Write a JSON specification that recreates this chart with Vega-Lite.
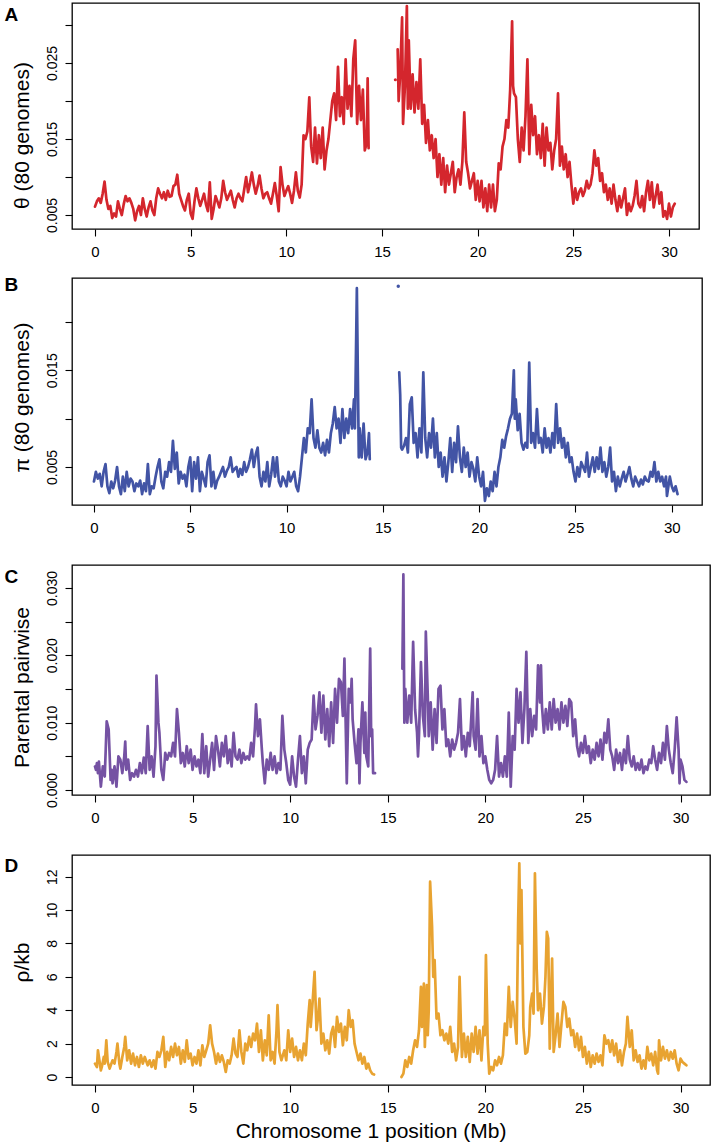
{
 "$schema": "https://vega.github.io/schema/vega-lite/v6.json",
 "background": "white",
 "padding": {"left": 3, "top": 2, "right": 0, "bottom": 0},
 "config": {
  "view": {"stroke": "black", "strokeWidth": 1.3},
  "axis": {"domain": false, "grid": false, "tickColor": "black", "tickSize": 7, "tickWidth": 1.1, "labelColor": "black", "titleColor": "black", "labelFont": "Liberation Sans", "titleFont": "Liberation Sans", "labelFlush": false, "labelOverlap": false, "titleFontWeight": "normal"}
 },
 "datasets": {
  "theta": [
   {"x":0.0,"v":0.0061},{"x":0.1,"v":0.0068},{"x":0.2,"v":0.0072},{"x":0.3,"v":0.0066},{"x":0.4,"v":0.0078},{"x":0.5,"v":0.0094},{"x":0.6,"v":0.0070},{"x":0.7,"v":0.0058},{"x":0.8,"v":0.0062},{"x":0.9,"v":0.0046},
   {"x":1.0,"v":0.0052},{"x":1.1,"v":0.0048},{"x":1.2,"v":0.0068},{"x":1.3,"v":0.0058},{"x":1.4,"v":0.0050},{"x":1.5,"v":0.0064},{"x":1.6,"v":0.0075},{"x":1.7,"v":0.0068},{"x":1.8,"v":0.0072},{"x":1.9,"v":0.0066},
   {"x":2.0,"v":0.0058},{"x":2.1,"v":0.0043},{"x":2.2,"v":0.0055},{"x":2.3,"v":0.0062},{"x":2.4,"v":0.0050},{"x":2.5,"v":0.0072},{"x":2.6,"v":0.0058},{"x":2.7,"v":0.0048},{"x":2.8,"v":0.0060},{"x":2.9,"v":0.0068},
   {"x":3.0,"v":0.0056},{"x":3.1,"v":0.0050},{"x":3.2,"v":0.0072},{"x":3.3,"v":0.0085},{"x":3.4,"v":0.0078},{"x":3.5,"v":0.0072},{"x":3.6,"v":0.0080},{"x":3.7,"v":0.0070},{"x":3.8,"v":0.0082},{"x":3.9,"v":0.0074},
   {"x":4.0,"v":0.0075},{"x":4.1,"v":0.0088},{"x":4.2,"v":0.0090},{"x":4.3,"v":0.0103},{"x":4.4,"v":0.0078},{"x":4.5,"v":0.0070},{"x":4.6,"v":0.0062},{"x":4.7,"v":0.0056},{"x":4.8,"v":0.0070},{"x":4.9,"v":0.0078},
   {"x":5.0,"v":0.0052},{"x":5.1,"v":0.0045},{"x":5.2,"v":0.0068},{"x":5.3,"v":0.0085},{"x":5.4,"v":0.0072},{"x":5.5,"v":0.0062},{"x":5.6,"v":0.0070},{"x":5.7,"v":0.0078},{"x":5.8,"v":0.0064},{"x":5.9,"v":0.0055},
   {"x":6.0,"v":0.0093},{"x":6.1,"v":0.0045},{"x":6.2,"v":0.0058},{"x":6.3,"v":0.0075},{"x":6.4,"v":0.0068},{"x":6.5,"v":0.0060},{"x":6.6,"v":0.0072},{"x":6.7,"v":0.0095},{"x":6.8,"v":0.0080},{"x":6.9,"v":0.0070},
   {"x":7.0,"v":0.0076},{"x":7.1,"v":0.0082},{"x":7.2,"v":0.0070},{"x":7.3,"v":0.0060},{"x":7.4,"v":0.0072},{"x":7.5,"v":0.0078},{"x":7.6,"v":0.0072},{"x":7.7,"v":0.0068},{"x":7.8,"v":0.0084},{"x":7.9,"v":0.0100},
   {"x":8.0,"v":0.0080},{"x":8.1,"v":0.0092},{"x":8.2,"v":0.0106},{"x":8.3,"v":0.0090},{"x":8.4,"v":0.0078},{"x":8.5,"v":0.0088},{"x":8.6,"v":0.0102},{"x":8.7,"v":0.0085},{"x":8.8,"v":0.0072},{"x":8.9,"v":0.0078},
   {"x":9.0,"v":0.0080},{"x":9.1,"v":0.0072},{"x":9.2,"v":0.0065},{"x":9.3,"v":0.0078},{"x":9.4,"v":0.0092},{"x":9.5,"v":0.0075},{"x":9.6,"v":0.0055},{"x":9.7,"v":0.0113},{"x":9.8,"v":0.0090},{"x":9.9,"v":0.0075},
   {"x":10.0,"v":0.0082},{"x":10.1,"v":0.0088},{"x":10.2,"v":0.0078},{"x":10.3,"v":0.0066},{"x":10.4,"v":0.0082},{"x":10.5,"v":0.0106},{"x":10.6,"v":0.0082},{"x":10.7,"v":0.0073},{"x":10.8,"v":0.0090},{"x":10.9,"v":0.0155},
   {"x":11.0,"v":0.0150},{"x":11.1,"v":0.0160},{"x":11.2,"v":0.0205},{"x":11.25,"v":0.0170},{"x":11.3,"v":0.0140},{"x":11.4,"v":0.0120},{"x":11.5,"v":0.0165},{"x":11.6,"v":0.0118},{"x":11.7,"v":0.0155},{"x":11.8,"v":0.0125},{"x":11.9,"v":0.0165},
   {"x":12.0,"v":0.0110},{"x":12.1,"v":0.0135},{"x":12.2,"v":0.0150},{"x":12.3,"v":0.0175},{"x":12.4,"v":0.0200},{"x":12.5,"v":0.0210},{"x":12.6,"v":0.0175},{"x":12.7,"v":0.0245},{"x":12.8,"v":0.0180},{"x":12.9,"v":0.0205},
   {"x":13.0,"v":0.0170},{"x":13.1,"v":0.0255},{"x":13.2,"v":0.0190},{"x":13.3,"v":0.0220},{"x":13.4,"v":0.0180},{"x":13.5,"v":0.0255},{"x":13.6,"v":0.0280},{"x":13.7,"v":0.0170},{"x":13.8,"v":0.0220},{"x":13.9,"v":0.0175},
   {"x":14.0,"v":0.0215},{"x":14.1,"v":0.0135},{"x":14.2,"v":0.0145},{"x":14.25,"v":0.0230},{"x":14.3,"v":0.0138},
   {"x":15.82,"v":0.0268},{"x":15.87,"v":0.0200},{"x":15.95,"v":0.0235},{"x":16.05,"v":0.0310},{"x":16.1,"v":0.0170},{"x":16.2,"v":0.0220},{"x":16.3,"v":0.0325},{"x":16.35,"v":0.0190},{"x":16.4,"v":0.0280},{"x":16.5,"v":0.0190},
   {"x":16.6,"v":0.0235},{"x":16.7,"v":0.0185},{"x":16.8,"v":0.0225},{"x":16.9,"v":0.0190},{"x":17.0,"v":0.0255},{"x":17.1,"v":0.0170},{"x":17.2,"v":0.0195},{"x":17.3,"v":0.0145},{"x":17.4,"v":0.0175},{"x":17.5,"v":0.0135},
   {"x":17.6,"v":0.0155},{"x":17.7,"v":0.0125},{"x":17.8,"v":0.0150},{"x":17.9,"v":0.0100},{"x":18.0,"v":0.0130},{"x":18.1,"v":0.0090},{"x":18.2,"v":0.0125},{"x":18.3,"v":0.0080},{"x":18.4,"v":0.0115},{"x":18.5,"v":0.0090},
   {"x":18.6,"v":0.0105},{"x":18.7,"v":0.0120},{"x":18.8,"v":0.0080},{"x":18.9,"v":0.0100},{"x":19.0,"v":0.0110},{"x":19.1,"v":0.0090},{"x":19.2,"v":0.0120},{"x":19.3,"v":0.0185},{"x":19.4,"v":0.0120},{"x":19.5,"v":0.0105},
   {"x":19.6,"v":0.0085},{"x":19.7,"v":0.0095},{"x":19.8,"v":0.0105},{"x":19.9,"v":0.0070},{"x":20.0,"v":0.0095},{"x":20.1,"v":0.0068},{"x":20.2,"v":0.0095},{"x":20.3,"v":0.0060},{"x":20.4,"v":0.0085},{"x":20.5,"v":0.0055},
   {"x":20.6,"v":0.0090},{"x":20.7,"v":0.0060},{"x":20.8,"v":0.0090},{"x":20.9,"v":0.0055},{"x":21.0,"v":0.0070},{"x":21.1,"v":0.0118},{"x":21.2,"v":0.0110},{"x":21.3,"v":0.0140},{"x":21.4,"v":0.0150},{"x":21.5,"v":0.0175},
   {"x":21.6,"v":0.0165},{"x":21.7,"v":0.0215},{"x":21.8,"v":0.0305},{"x":21.85,"v":0.0220},{"x":21.9,"v":0.0210},{"x":22.0,"v":0.0205},{"x":22.1,"v":0.0150},{"x":22.2,"v":0.0120},{"x":22.3,"v":0.0165},{"x":22.4,"v":0.0135},
   {"x":22.5,"v":0.0180},{"x":22.6,"v":0.0255},{"x":22.7,"v":0.0130},{"x":22.8,"v":0.0195},{"x":22.9,"v":0.0155},{"x":23.0,"v":0.0180},{"x":23.1,"v":0.0130},{"x":23.2,"v":0.0155},{"x":23.3,"v":0.0125},{"x":23.4,"v":0.0170},
   {"x":23.5,"v":0.0115},{"x":23.6,"v":0.0165},{"x":23.7,"v":0.0135},{"x":23.8,"v":0.0145},{"x":23.9,"v":0.0110},{"x":24.0,"v":0.0135},{"x":24.1,"v":0.0150},{"x":24.2,"v":0.0210},{"x":24.3,"v":0.0115},{"x":24.4,"v":0.0140},
   {"x":24.5,"v":0.0110},{"x":24.6,"v":0.0130},{"x":24.7,"v":0.0100},{"x":24.8,"v":0.0120},{"x":24.9,"v":0.0090},{"x":25.0,"v":0.0065},{"x":25.1,"v":0.0085},{"x":25.2,"v":0.0070},{"x":25.3,"v":0.0080},{"x":25.4,"v":0.0085},
   {"x":25.5,"v":0.0075},{"x":25.6,"v":0.0082},{"x":25.7,"v":0.0095},{"x":25.8,"v":0.0085},{"x":25.9,"v":0.0090},{"x":26.0,"v":0.0105},{"x":26.1,"v":0.0135},{"x":26.2,"v":0.0115},{"x":26.3,"v":0.0125},{"x":26.4,"v":0.0095},
   {"x":26.5,"v":0.0105},{"x":26.6,"v":0.0080},{"x":26.7,"v":0.0090},{"x":26.8,"v":0.0070},{"x":26.9,"v":0.0085},{"x":27.0,"v":0.0065},{"x":27.1,"v":0.0090},{"x":27.2,"v":0.0070},{"x":27.3,"v":0.0055},{"x":27.4,"v":0.0075},
   {"x":27.5,"v":0.0060},{"x":27.6,"v":0.0072},{"x":27.7,"v":0.0085},{"x":27.8,"v":0.0050},{"x":27.9,"v":0.0065},{"x":28.0,"v":0.0055},{"x":28.1,"v":0.0062},{"x":28.2,"v":0.0075},{"x":28.3,"v":0.0095},{"x":28.4,"v":0.0065},
   {"x":28.5,"v":0.0060},{"x":28.6,"v":0.0075},{"x":28.7,"v":0.0055},{"x":28.8,"v":0.0080},{"x":28.9,"v":0.0095},{"x":29.0,"v":0.0070},{"x":29.1,"v":0.0093},{"x":29.2,"v":0.0060},{"x":29.3,"v":0.0075},{"x":29.4,"v":0.0090},
   {"x":29.5,"v":0.0065},{"x":29.6,"v":0.0080},{"x":29.7,"v":0.0048},{"x":29.8,"v":0.0055},{"x":29.9,"v":0.0045},{"x":30.0,"v":0.0065},{"x":30.1,"v":0.0048},{"x":30.2,"v":0.0060},{"x":30.3,"v":0.0065}
  ],
  "thetaDot": [{"x":15.7,"v":0.0228}],
  "pi": [
   {"x":0.0,"v":0.0035},{"x":0.1,"v":0.0045},{"x":0.2,"v":0.0038},{"x":0.3,"v":0.0043},{"x":0.4,"v":0.0030},{"x":0.5,"v":0.0045},{"x":0.6,"v":0.0053},{"x":0.7,"v":0.0030},{"x":0.8,"v":0.0023},{"x":0.9,"v":0.0035},
   {"x":1.0,"v":0.0028},{"x":1.1,"v":0.0036},{"x":1.2,"v":0.0050},{"x":1.3,"v":0.0030},{"x":1.4,"v":0.0022},{"x":1.5,"v":0.0040},{"x":1.6,"v":0.0025},{"x":1.7,"v":0.0045},{"x":1.8,"v":0.0030},{"x":1.9,"v":0.0038},
   {"x":2.0,"v":0.0035},{"x":2.1,"v":0.0025},{"x":2.2,"v":0.0033},{"x":2.3,"v":0.0030},{"x":2.4,"v":0.0036},{"x":2.5,"v":0.0022},{"x":2.6,"v":0.0033},{"x":2.7,"v":0.0025},{"x":2.8,"v":0.0053},{"x":2.9,"v":0.0022},
   {"x":3.0,"v":0.0030},{"x":3.1,"v":0.0028},{"x":3.2,"v":0.0040},{"x":3.3,"v":0.0050},{"x":3.4,"v":0.0058},{"x":3.5,"v":0.0035},{"x":3.6,"v":0.0028},{"x":3.7,"v":0.0045},{"x":3.8,"v":0.0040},{"x":3.9,"v":0.0055},
   {"x":4.0,"v":0.0045},{"x":4.1,"v":0.0077},{"x":4.2,"v":0.0048},{"x":4.3,"v":0.0065},{"x":4.4,"v":0.0033},{"x":4.5,"v":0.0045},{"x":4.6,"v":0.0038},{"x":4.7,"v":0.0042},{"x":4.8,"v":0.0030},{"x":4.9,"v":0.0050},
   {"x":5.0,"v":0.0060},{"x":5.1,"v":0.0025},{"x":5.2,"v":0.0055},{"x":5.3,"v":0.0038},{"x":5.4,"v":0.0060},{"x":5.5,"v":0.0025},{"x":5.6,"v":0.0045},{"x":5.7,"v":0.0038},{"x":5.8,"v":0.0030},{"x":5.9,"v":0.0055},
   {"x":6.0,"v":0.0062},{"x":6.1,"v":0.0030},{"x":6.2,"v":0.0045},{"x":6.3,"v":0.0028},{"x":6.4,"v":0.0036},{"x":6.5,"v":0.0040},{"x":6.6,"v":0.0045},{"x":6.7,"v":0.0050},{"x":6.8,"v":0.0040},{"x":6.9,"v":0.0046},
   {"x":7.0,"v":0.0050},{"x":7.1,"v":0.0060},{"x":7.2,"v":0.0045},{"x":7.3,"v":0.0048},{"x":7.4,"v":0.0050},{"x":7.5,"v":0.0040},{"x":7.6,"v":0.0048},{"x":7.7,"v":0.0042},{"x":7.8,"v":0.0055},{"x":7.9,"v":0.0045},
   {"x":8.0,"v":0.0050},{"x":8.1,"v":0.0058},{"x":8.2,"v":0.0068},{"x":8.3,"v":0.0050},{"x":8.4,"v":0.0063},{"x":8.5,"v":0.0070},{"x":8.6,"v":0.0040},{"x":8.7,"v":0.0030},{"x":8.8,"v":0.0045},{"x":8.9,"v":0.0035},
   {"x":9.0,"v":0.0055},{"x":9.1,"v":0.0030},{"x":9.2,"v":0.0042},{"x":9.3,"v":0.0060},{"x":9.4,"v":0.0040},{"x":9.5,"v":0.0060},{"x":9.6,"v":0.0035},{"x":9.7,"v":0.0030},{"x":9.8,"v":0.0040},{"x":9.9,"v":0.0036},
   {"x":10.0,"v":0.0030},{"x":10.1,"v":0.0045},{"x":10.2,"v":0.0035},{"x":10.3,"v":0.0040},{"x":10.4,"v":0.0045},{"x":10.5,"v":0.0030},{"x":10.6,"v":0.0025},{"x":10.7,"v":0.0040},{"x":10.8,"v":0.0060},{"x":10.9,"v":0.0080},
   {"x":11.0,"v":0.0065},{"x":11.1,"v":0.0090},{"x":11.2,"v":0.0085},{"x":11.3,"v":0.0120},{"x":11.4,"v":0.0080},{"x":11.5,"v":0.0070},{"x":11.6,"v":0.0088},{"x":11.7,"v":0.0070},{"x":11.8,"v":0.0065},{"x":11.9,"v":0.0075},
   {"x":12.0,"v":0.0062},{"x":12.1,"v":0.0078},{"x":12.2,"v":0.0065},{"x":12.3,"v":0.0085},{"x":12.4,"v":0.0095},{"x":12.5,"v":0.0112},{"x":12.6,"v":0.0090},{"x":12.7,"v":0.0100},{"x":12.8,"v":0.0075},{"x":12.9,"v":0.0110},
   {"x":13.0,"v":0.0080},{"x":13.1,"v":0.0100},{"x":13.2,"v":0.0085},{"x":13.3,"v":0.0110},{"x":13.4,"v":0.0090},{"x":13.5,"v":0.0120},{"x":13.55,"v":0.0090},{"x":13.65,"v":0.0235},{"x":13.75,"v":0.0060},{"x":13.8,"v":0.0090},
   {"x":13.9,"v":0.0060},{"x":14.0,"v":0.0095},{"x":14.1,"v":0.0058},{"x":14.2,"v":0.0065},{"x":14.28,"v":0.0085},{"x":14.32,"v":0.0058},
   {"x":15.85,"v":0.0148},{"x":15.9,"v":0.0125},{"x":15.95,"v":0.0070},{"x":16.0,"v":0.0068},{"x":16.1,"v":0.0072},{"x":16.2,"v":0.0080},{"x":16.3,"v":0.0065},{"x":16.4,"v":0.0115},{"x":16.5,"v":0.0122},{"x":16.6,"v":0.0075},
   {"x":16.7,"v":0.0085},{"x":16.8,"v":0.0060},{"x":16.9,"v":0.0090},{"x":17.0,"v":0.0065},{"x":17.1,"v":0.0148},{"x":17.2,"v":0.0080},{"x":17.3,"v":0.0060},{"x":17.4,"v":0.0085},{"x":17.5,"v":0.0070},{"x":17.6,"v":0.0100},
   {"x":17.7,"v":0.0060},{"x":17.8,"v":0.0085},{"x":17.9,"v":0.0050},{"x":18.0,"v":0.0065},{"x":18.1,"v":0.0040},{"x":18.2,"v":0.0060},{"x":18.3,"v":0.0035},{"x":18.4,"v":0.0055},{"x":18.5,"v":0.0080},{"x":18.6,"v":0.0045},
   {"x":18.7,"v":0.0075},{"x":18.8,"v":0.0055},{"x":18.9,"v":0.0092},{"x":19.0,"v":0.0060},{"x":19.1,"v":0.0045},{"x":19.2,"v":0.0070},{"x":19.3,"v":0.0050},{"x":19.4,"v":0.0065},{"x":19.5,"v":0.0040},{"x":19.6,"v":0.0055},
   {"x":19.7,"v":0.0048},{"x":19.8,"v":0.0035},{"x":19.9,"v":0.0060},{"x":20.0,"v":0.0040},{"x":20.1,"v":0.0030},{"x":20.2,"v":0.0045},{"x":20.3,"v":0.0015},{"x":20.4,"v":0.0028},{"x":20.5,"v":0.0020},{"x":20.6,"v":0.0035},
   {"x":20.7,"v":0.0025},{"x":20.8,"v":0.0045},{"x":20.9,"v":0.0030},{"x":21.0,"v":0.0050},{"x":21.1,"v":0.0060},{"x":21.2,"v":0.0078},{"x":21.3,"v":0.0070},{"x":21.4,"v":0.0082},{"x":21.5,"v":0.0090},{"x":21.6,"v":0.0100},
   {"x":21.7,"v":0.0105},{"x":21.8,"v":0.0150},{"x":21.85,"v":0.0100},{"x":21.9,"v":0.0120},{"x":22.0,"v":0.0088},{"x":22.1,"v":0.0105},{"x":22.2,"v":0.0075},{"x":22.3,"v":0.0068},{"x":22.4,"v":0.0075},{"x":22.5,"v":0.0070},
   {"x":22.6,"v":0.0158},{"x":22.7,"v":0.0075},{"x":22.8,"v":0.0085},{"x":22.9,"v":0.0070},{"x":23.0,"v":0.0110},{"x":23.1,"v":0.0075},{"x":23.2,"v":0.0080},{"x":23.3,"v":0.0065},{"x":23.4,"v":0.0090},{"x":23.5,"v":0.0070},
   {"x":23.6,"v":0.0080},{"x":23.7,"v":0.0065},{"x":23.8,"v":0.0085},{"x":23.9,"v":0.0070},{"x":24.0,"v":0.0115},{"x":24.1,"v":0.0075},{"x":24.2,"v":0.0090},{"x":24.3,"v":0.0070},{"x":24.4,"v":0.0080},{"x":24.5,"v":0.0060},
   {"x":24.6,"v":0.0075},{"x":24.7,"v":0.0055},{"x":24.8,"v":0.0060},{"x":24.9,"v":0.0045},{"x":25.0,"v":0.0035},{"x":25.1,"v":0.0050},{"x":25.2,"v":0.0040},{"x":25.3,"v":0.0055},{"x":25.4,"v":0.0050},{"x":25.5,"v":0.0045},
   {"x":25.6,"v":0.0065},{"x":25.7,"v":0.0040},{"x":25.8,"v":0.0050},{"x":25.9,"v":0.0060},{"x":26.0,"v":0.0045},{"x":26.1,"v":0.0060},{"x":26.2,"v":0.0048},{"x":26.3,"v":0.0070},{"x":26.4,"v":0.0045},{"x":26.5,"v":0.0055},
   {"x":26.6,"v":0.0040},{"x":26.7,"v":0.0050},{"x":26.8,"v":0.0070},{"x":26.9,"v":0.0035},{"x":27.0,"v":0.0045},{"x":27.1,"v":0.0025},{"x":27.2,"v":0.0040},{"x":27.3,"v":0.0030},{"x":27.4,"v":0.0038},{"x":27.5,"v":0.0045},
   {"x":27.6,"v":0.0035},{"x":27.7,"v":0.0042},{"x":27.8,"v":0.0050},{"x":27.9,"v":0.0038},{"x":28.0,"v":0.0030},{"x":28.1,"v":0.0040},{"x":28.2,"v":0.0035},{"x":28.3,"v":0.0030},{"x":28.4,"v":0.0037},{"x":28.5,"v":0.0032},
   {"x":28.6,"v":0.0040},{"x":28.7,"v":0.0036},{"x":28.8,"v":0.0035},{"x":28.9,"v":0.0045},{"x":29.0,"v":0.0040},{"x":29.1,"v":0.0055},{"x":29.2,"v":0.0035},{"x":29.3,"v":0.0045},{"x":29.4,"v":0.0035},{"x":29.5,"v":0.0040},
   {"x":29.6,"v":0.0030},{"x":29.7,"v":0.0040},{"x":29.75,"v":0.0020},{"x":29.9,"v":0.0040},{"x":30.0,"v":0.0030},{"x":30.1,"v":0.0025},{"x":30.2,"v":0.0030},{"x":30.3,"v":0.0022}
  ],
  "piDot": [{"x":15.8,"v":0.0237}],
  "pair": [
   {"x":0.0,"v":0.0035},{"x":0.05,"v":0.0030},{"x":0.1,"v":0.0040},{"x":0.15,"v":0.0025},{"x":0.2,"v":0.0042},{"x":0.3,"v":0.0005},{"x":0.4,"v":0.0035},{"x":0.5,"v":0.0020},{"x":0.55,"v":0.0060},{"x":0.6,"v":0.0102},
   {"x":0.7,"v":0.0090},{"x":0.8,"v":0.0015},{"x":0.85,"v":0.0030},{"x":0.9,"v":0.0010},{"x":1.0,"v":0.0035},{"x":1.1,"v":0.0005},{"x":1.2,"v":0.0050},{"x":1.3,"v":0.0045},{"x":1.4,"v":0.0025},{"x":1.5,"v":0.0050},
   {"x":1.55,"v":0.0072},{"x":1.6,"v":0.0030},{"x":1.7,"v":0.0045},{"x":1.8,"v":0.0015},{"x":1.9,"v":0.0025},{"x":2.0,"v":0.0020},{"x":2.1,"v":0.0030},{"x":2.2,"v":0.0020},{"x":2.3,"v":0.0040},{"x":2.4,"v":0.0025},
   {"x":2.5,"v":0.0048},{"x":2.6,"v":0.0025},{"x":2.7,"v":0.0095},{"x":2.8,"v":0.0030},{"x":2.9,"v":0.0050},{"x":3.0,"v":0.0020},{"x":3.1,"v":0.0065},{"x":3.15,"v":0.0170},{"x":3.25,"v":0.0100},{"x":3.3,"v":0.0085},
   {"x":3.4,"v":0.0030},{"x":3.5,"v":0.0015},{"x":3.6,"v":0.0055},{"x":3.7,"v":0.0045},{"x":3.8,"v":0.0055},{"x":3.9,"v":0.0050},{"x":4.0,"v":0.0070},{"x":4.1,"v":0.0050},{"x":4.2,"v":0.0120},{"x":4.3,"v":0.0085},
   {"x":4.4,"v":0.0040},{"x":4.5,"v":0.0055},{"x":4.6,"v":0.0035},{"x":4.7,"v":0.0065},{"x":4.8,"v":0.0040},{"x":4.9,"v":0.0060},{"x":5.0,"v":0.0030},{"x":5.1,"v":0.0050},{"x":5.2,"v":0.0035},{"x":5.3,"v":0.0045},
   {"x":5.4,"v":0.0025},{"x":5.5,"v":0.0083},{"x":5.6,"v":0.0025},{"x":5.7,"v":0.0065},{"x":5.8,"v":0.0020},{"x":5.9,"v":0.0045},{"x":6.0,"v":0.0070},{"x":6.1,"v":0.0030},{"x":6.2,"v":0.0080},{"x":6.3,"v":0.0060},
   {"x":6.4,"v":0.0035},{"x":6.5,"v":0.0070},{"x":6.6,"v":0.0050},{"x":6.7,"v":0.0080},{"x":6.8,"v":0.0040},{"x":6.9,"v":0.0060},{"x":7.0,"v":0.0035},{"x":7.1,"v":0.0085},{"x":7.2,"v":0.0050},{"x":7.3,"v":0.0045},
   {"x":7.4,"v":0.0060},{"x":7.5,"v":0.0040},{"x":7.6,"v":0.0055},{"x":7.7,"v":0.0045},{"x":7.8,"v":0.0050},{"x":7.9,"v":0.0045},{"x":8.0,"v":0.0070},{"x":8.1,"v":0.0050},{"x":8.2,"v":0.0095},{"x":8.25,"v":0.0127},
   {"x":8.35,"v":0.0080},{"x":8.45,"v":0.0105},{"x":8.55,"v":0.0060},{"x":8.6,"v":0.0040},{"x":8.7,"v":0.0010},{"x":8.8,"v":0.0045},{"x":8.9,"v":0.0030},{"x":9.0,"v":0.0055},{"x":9.1,"v":0.0030},{"x":9.2,"v":0.0050},
   {"x":9.3,"v":0.0025},{"x":9.4,"v":0.0040},{"x":9.5,"v":0.0030},{"x":9.6,"v":0.0110},{"x":9.7,"v":0.0060},{"x":9.8,"v":0.0040},{"x":9.9,"v":0.0015},{"x":10.0,"v":0.0008},{"x":10.1,"v":0.0050},{"x":10.2,"v":0.0020},
   {"x":10.3,"v":0.0005},{"x":10.4,"v":0.0045},{"x":10.5,"v":0.0080},{"x":10.6,"v":0.0025},{"x":10.7,"v":0.0050},{"x":10.8,"v":0.0010},{"x":10.9,"v":0.0060},{"x":11.0,"v":0.0070},{"x":11.1,"v":0.0075},{"x":11.2,"v":0.0140},
   {"x":11.3,"v":0.0090},{"x":11.4,"v":0.0110},{"x":11.5,"v":0.0145},{"x":11.6,"v":0.0085},{"x":11.7,"v":0.0140},{"x":11.8,"v":0.0075},{"x":11.9,"v":0.0120},{"x":12.0,"v":0.0065},{"x":12.1,"v":0.0130},{"x":12.2,"v":0.0070},
   {"x":12.3,"v":0.0150},{"x":12.4,"v":0.0100},{"x":12.5,"v":0.0165},{"x":12.6,"v":0.0160},{"x":12.7,"v":0.0110},{"x":12.78,"v":0.0195},{"x":12.85,"v":0.0090},{"x":12.9,"v":0.0010},{"x":13.0,"v":0.0150},{"x":13.1,"v":0.0130},
   {"x":13.15,"v":0.0165},{"x":13.2,"v":0.0105},{"x":13.3,"v":0.0070},{"x":13.4,"v":0.0040},{"x":13.5,"v":0.0090},{"x":13.55,"v":0.0010},{"x":13.6,"v":0.0070},{"x":13.7,"v":0.0130},{"x":13.8,"v":0.0055},{"x":13.85,"v":0.0115},
   {"x":13.9,"v":0.0050},{"x":14.0,"v":0.0035},{"x":14.1,"v":0.0210},{"x":14.15,"v":0.0080},{"x":14.2,"v":0.0090},{"x":14.25,"v":0.0025},{"x":14.35,"v":0.0025},
   {"x":15.75,"v":0.0180},{"x":15.8,"v":0.0320},{"x":15.85,"v":0.0100},{"x":15.9,"v":0.0150},{"x":16.0,"v":0.0100},{"x":16.1,"v":0.0140},{"x":16.2,"v":0.0100},{"x":16.3,"v":0.0220},{"x":16.4,"v":0.0120},{"x":16.5,"v":0.0085},
   {"x":16.55,"v":0.0050},{"x":16.6,"v":0.0080},{"x":16.7,"v":0.0190},{"x":16.8,"v":0.0110},{"x":16.9,"v":0.0080},{"x":16.95,"v":0.0235},{"x":17.05,"v":0.0140},{"x":17.1,"v":0.0080},{"x":17.2,"v":0.0130},{"x":17.3,"v":0.0060},
   {"x":17.4,"v":0.0120},{"x":17.5,"v":0.0070},{"x":17.6,"v":0.0150},{"x":17.7,"v":0.0155},{"x":17.8,"v":0.0090},{"x":17.9,"v":0.0120},{"x":18.0,"v":0.0065},{"x":18.1,"v":0.0075},{"x":18.2,"v":0.0050},{"x":18.3,"v":0.0075},
   {"x":18.4,"v":0.0060},{"x":18.5,"v":0.0070},{"x":18.6,"v":0.0085},{"x":18.7,"v":0.0135},{"x":18.8,"v":0.0060},{"x":18.9,"v":0.0080},{"x":19.0,"v":0.0050},{"x":19.1,"v":0.0085},{"x":19.2,"v":0.0065},{"x":19.35,"v":0.0145},
   {"x":19.4,"v":0.0080},{"x":19.5,"v":0.0060},{"x":19.6,"v":0.0135},{"x":19.7,"v":0.0050},{"x":19.8,"v":0.0080},{"x":19.9,"v":0.0040},{"x":20.0,"v":0.0050},{"x":20.1,"v":0.0030},{"x":20.2,"v":0.0015},{"x":20.3,"v":0.0010},
   {"x":20.4,"v":0.0015},{"x":20.5,"v":0.0030},{"x":20.6,"v":0.0080},{"x":20.7,"v":0.0020},{"x":20.8,"v":0.0040},{"x":20.9,"v":0.0020},{"x":21.0,"v":0.0050},{"x":21.1,"v":0.0020},{"x":21.2,"v":0.0115},{"x":21.3,"v":0.0005},
   {"x":21.4,"v":0.0080},{"x":21.5,"v":0.0060},{"x":21.6,"v":0.0150},{"x":21.7,"v":0.0100},{"x":21.8,"v":0.0145},{"x":21.9,"v":0.0070},{"x":22.0,"v":0.0120},{"x":22.1,"v":0.0205},{"x":22.2,"v":0.0070},{"x":22.3,"v":0.0120},
   {"x":22.4,"v":0.0080},{"x":22.5,"v":0.0110},{"x":22.6,"v":0.0090},{"x":22.7,"v":0.0185},{"x":22.8,"v":0.0130},{"x":22.85,"v":0.0185},{"x":22.9,"v":0.0125},{"x":23.0,"v":0.0085},{"x":23.1,"v":0.0120},{"x":23.2,"v":0.0090},
   {"x":23.3,"v":0.0130},{"x":23.4,"v":0.0090},{"x":23.5,"v":0.0135},{"x":23.6,"v":0.0100},{"x":23.7,"v":0.0120},{"x":23.8,"v":0.0090},{"x":23.9,"v":0.0130},{"x":24.0,"v":0.0100},{"x":24.1,"v":0.0125},{"x":24.2,"v":0.0095},
   {"x":24.3,"v":0.0135},{"x":24.4,"v":0.0130},{"x":24.5,"v":0.0080},{"x":24.6,"v":0.0105},{"x":24.7,"v":0.0065},{"x":24.8,"v":0.0050},{"x":24.9,"v":0.0070},{"x":25.0,"v":0.0055},{"x":25.1,"v":0.0080},{"x":25.2,"v":0.0055},
   {"x":25.3,"v":0.0065},{"x":25.4,"v":0.0040},{"x":25.5,"v":0.0060},{"x":25.6,"v":0.0045},{"x":25.7,"v":0.0070},{"x":25.8,"v":0.0050},{"x":25.9,"v":0.0075},{"x":26.0,"v":0.0045},{"x":26.1,"v":0.0085},{"x":26.2,"v":0.0070},
   {"x":26.3,"v":0.0105},{"x":26.4,"v":0.0060},{"x":26.5,"v":0.0050},{"x":26.6,"v":0.0030},{"x":26.7,"v":0.0060},{"x":26.8,"v":0.0040},{"x":26.9,"v":0.0055},{"x":27.0,"v":0.0030},{"x":27.1,"v":0.0060},{"x":27.2,"v":0.0040},
   {"x":27.3,"v":0.0080},{"x":27.4,"v":0.0045},{"x":27.5,"v":0.0035},{"x":27.6,"v":0.0050},{"x":27.7,"v":0.0030},{"x":27.8,"v":0.0040},{"x":27.9,"v":0.0030},{"x":28.0,"v":0.0045},{"x":28.1,"v":0.0025},{"x":28.2,"v":0.0035},
   {"x":28.3,"v":0.0030},{"x":28.4,"v":0.0045},{"x":28.5,"v":0.0040},{"x":28.6,"v":0.0065},{"x":28.7,"v":0.0045},{"x":28.8,"v":0.0030},{"x":28.9,"v":0.0055},{"x":29.0,"v":0.0040},{"x":29.1,"v":0.0070},{"x":29.2,"v":0.0045},
   {"x":29.3,"v":0.0095},{"x":29.4,"v":0.0060},{"x":29.5,"v":0.0040},{"x":29.6,"v":0.0025},{"x":29.7,"v":0.0060},{"x":29.8,"v":0.0108},{"x":29.9,"v":0.0060},{"x":29.95,"v":0.0010},{"x":30.0,"v":0.0045},{"x":30.1,"v":0.0035},
   {"x":30.2,"v":0.0015},{"x":30.3,"v":0.0012}
  ],
  "rho": [
   {"x":0.0,"v":0.8},{"x":0.1,"v":0.6},{"x":0.15,"v":1.6},{"x":0.2,"v":1.2},{"x":0.3,"v":0.4},{"x":0.35,"v":0.6},{"x":0.45,"v":1.2},{"x":0.5,"v":0.8},{"x":0.58,"v":2.2},{"x":0.65,"v":0.9},
   {"x":0.75,"v":0.5},{"x":0.9,"v":1.0},{"x":1.0,"v":0.8},{"x":1.1,"v":1.5},{"x":1.15,"v":2.0},{"x":1.25,"v":0.8},{"x":1.3,"v":0.5},{"x":1.4,"v":1.2},{"x":1.5,"v":1.8},{"x":1.55,"v":2.4},
   {"x":1.65,"v":1.0},{"x":1.75,"v":1.6},{"x":1.85,"v":0.8},{"x":1.95,"v":1.4},{"x":2.05,"v":0.7},{"x":2.15,"v":1.2},{"x":2.25,"v":0.6},{"x":2.35,"v":1.3},{"x":2.45,"v":0.8},{"x":2.55,"v":1.2},
   {"x":2.7,"v":0.7},{"x":2.8,"v":1.0},{"x":2.9,"v":0.6},{"x":3.0,"v":1.0},{"x":3.1,"v":0.5},{"x":3.2,"v":1.5},{"x":3.3,"v":1.2},{"x":3.4,"v":1.6},{"x":3.5,"v":2.4},{"x":3.6,"v":0.6},
   {"x":3.7,"v":1.5},{"x":3.8,"v":1.0},{"x":3.9,"v":1.8},{"x":4.0,"v":1.2},{"x":4.1,"v":2.0},{"x":4.2,"v":1.3},{"x":4.3,"v":1.8},{"x":4.4,"v":0.8},{"x":4.5,"v":1.6},{"x":4.6,"v":0.9},
   {"x":4.7,"v":2.2},{"x":4.8,"v":1.1},{"x":4.9,"v":1.4},{"x":5.0,"v":0.7},{"x":5.1,"v":1.2},{"x":5.2,"v":0.8},{"x":5.3,"v":1.6},{"x":5.4,"v":0.7},{"x":5.5,"v":1.9},{"x":5.6,"v":1.2},
   {"x":5.7,"v":1.6},{"x":5.8,"v":2.0},{"x":5.9,"v":3.1},{"x":6.0,"v":2.0},{"x":6.1,"v":1.5},{"x":6.2,"v":0.8},{"x":6.3,"v":1.4},{"x":6.4,"v":0.9},{"x":6.5,"v":1.3},{"x":6.6,"v":0.9},
   {"x":6.7,"v":0.3},{"x":6.8,"v":1.0},{"x":6.9,"v":0.8},{"x":7.0,"v":1.3},{"x":7.1,"v":2.3},{"x":7.2,"v":1.4},{"x":7.3,"v":1.2},{"x":7.4,"v":2.8},{"x":7.5,"v":1.5},{"x":7.6,"v":0.8},
   {"x":7.7,"v":2.0},{"x":7.8,"v":1.6},{"x":7.9,"v":2.4},{"x":8.0,"v":1.8},{"x":8.1,"v":2.6},{"x":8.2,"v":2.2},{"x":8.3,"v":3.2},{"x":8.4,"v":1.5},{"x":8.5,"v":2.8},{"x":8.6,"v":1.0},
   {"x":8.7,"v":2.2},{"x":8.8,"v":1.3},{"x":8.9,"v":3.7},{"x":9.0,"v":1.0},{"x":9.1,"v":1.5},{"x":9.2,"v":0.8},{"x":9.3,"v":2.8},{"x":9.35,"v":4.3},{"x":9.45,"v":1.5},{"x":9.55,"v":1.0},
   {"x":9.7,"v":1.6},{"x":9.8,"v":1.0},{"x":9.9,"v":2.8},{"x":10.0,"v":1.5},{"x":10.1,"v":2.3},{"x":10.2,"v":1.2},{"x":10.3,"v":1.8},{"x":10.4,"v":1.0},{"x":10.5,"v":1.6},{"x":10.6,"v":1.0},
   {"x":10.7,"v":2.0},{"x":10.8,"v":1.3},{"x":10.9,"v":3.2},{"x":11.0,"v":4.6},{"x":11.05,"v":3.0},{"x":11.15,"v":4.5},{"x":11.25,"v":6.3},{"x":11.35,"v":2.8},{"x":11.45,"v":3.8},{"x":11.5,"v":4.7},
   {"x":11.6,"v":2.0},{"x":11.7,"v":2.6},{"x":11.8,"v":1.6},{"x":11.9,"v":2.2},{"x":12.0,"v":1.4},{"x":12.1,"v":2.6},{"x":12.2,"v":3.0},{"x":12.3,"v":1.8},{"x":12.4,"v":3.6},{"x":12.5,"v":2.7},
   {"x":12.6,"v":3.2},{"x":12.7,"v":1.9},{"x":12.8,"v":3.0},{"x":12.9,"v":2.2},{"x":13.0,"v":4.0},{"x":13.1,"v":3.0},{"x":13.2,"v":3.4},{"x":13.3,"v":2.0},{"x":13.4,"v":1.5},{"x":13.5,"v":1.0},
   {"x":13.6,"v":1.4},{"x":13.7,"v":0.8},{"x":13.8,"v":1.2},{"x":13.9,"v":0.5},{"x":14.0,"v":0.8},{"x":14.1,"v":0.4},{"x":14.2,"v":0.2},{"x":14.3,"v":0.15},
   {"x":15.7,"v":0.0},{"x":15.8,"v":0.2},{"x":15.9,"v":1.0},{"x":16.0,"v":0.6},{"x":16.1,"v":1.2},{"x":16.2,"v":0.8},{"x":16.3,"v":1.6},{"x":16.4,"v":2.2},{"x":16.5,"v":1.8},{"x":16.6,"v":2.8},
   {"x":16.7,"v":5.4},{"x":16.75,"v":3.0},{"x":16.85,"v":5.6},{"x":16.9,"v":1.8},{"x":17.0,"v":5.5},{"x":17.05,"v":2.5},{"x":17.1,"v":4.0},{"x":17.17,"v":11.7},{"x":17.27,"v":9.0},{"x":17.33,"v":6.0},
   {"x":17.4,"v":7.0},{"x":17.5,"v":3.5},{"x":17.6,"v":3.8},{"x":17.7,"v":2.5},{"x":17.8,"v":2.8},{"x":17.9,"v":2.2},{"x":18.0,"v":2.6},{"x":18.1,"v":2.0},{"x":18.2,"v":3.0},{"x":18.3,"v":1.5},
   {"x":18.4,"v":2.0},{"x":18.5,"v":1.0},{"x":18.6,"v":1.8},{"x":18.68,"v":6.0},{"x":18.75,"v":3.0},{"x":18.8,"v":1.2},{"x":18.9,"v":2.6},{"x":19.0,"v":1.2},{"x":19.1,"v":2.4},{"x":19.2,"v":0.9},
   {"x":19.3,"v":2.6},{"x":19.4,"v":1.5},{"x":19.5,"v":3.0},{"x":19.6,"v":1.4},{"x":19.7,"v":2.8},{"x":19.8,"v":1.0},{"x":19.9,"v":3.0},{"x":19.97,"v":2.5},{"x":20.03,"v":7.3},{"x":20.12,"v":2.0},
   {"x":20.2,"v":0.2},{"x":20.3,"v":0.6},{"x":20.4,"v":0.4},{"x":20.5,"v":1.0},{"x":20.6,"v":0.7},{"x":20.7,"v":1.2},{"x":20.8,"v":0.8},{"x":20.9,"v":1.3},{"x":21.0,"v":3.2},{"x":21.1,"v":2.5},
   {"x":21.2,"v":5.4},{"x":21.3,"v":3.0},{"x":21.4,"v":4.5},{"x":21.5,"v":3.5},{"x":21.6,"v":2.0},{"x":21.68,"v":9.3},{"x":21.74,"v":12.8},{"x":21.8,"v":8.0},{"x":21.85,"v":11.2},{"x":21.95,"v":3.0},
   {"x":22.05,"v":1.4},{"x":22.15,"v":1.5},{"x":22.25,"v":2.5},{"x":22.3,"v":4.2},{"x":22.4,"v":5.0},{"x":22.47,"v":3.8},{"x":22.54,"v":12.2},{"x":22.63,"v":6.5},{"x":22.7,"v":4.0},{"x":22.8,"v":5.0},
   {"x":22.9,"v":3.2},{"x":23.0,"v":4.2},{"x":23.08,"v":6.0},{"x":23.15,"v":8.7},{"x":23.22,"v":8.3},{"x":23.3,"v":1.7},{"x":23.35,"v":4.0},{"x":23.42,"v":7.1},{"x":23.5,"v":1.5},{"x":23.6,"v":2.5},
   {"x":23.7,"v":3.8},{"x":23.8,"v":1.8},{"x":23.9,"v":3.2},{"x":24.0,"v":4.5},{"x":24.1,"v":4.2},{"x":24.2,"v":3.0},{"x":24.3,"v":3.5},{"x":24.4,"v":2.5},{"x":24.5,"v":2.8},{"x":24.6,"v":1.8},
   {"x":24.7,"v":2.6},{"x":24.8,"v":1.6},{"x":24.9,"v":2.4},{"x":25.0,"v":1.2},{"x":25.1,"v":1.8},{"x":25.2,"v":0.8},{"x":25.3,"v":1.5},{"x":25.4,"v":0.6},{"x":25.5,"v":1.3},{"x":25.6,"v":0.8},
   {"x":25.7,"v":1.4},{"x":25.8,"v":0.9},{"x":25.9,"v":1.3},{"x":26.0,"v":0.7},{"x":26.1,"v":2.5},{"x":26.2,"v":2.0},{"x":26.3,"v":2.2},{"x":26.4,"v":1.5},{"x":26.5,"v":2.2},{"x":26.6,"v":1.3},
   {"x":26.7,"v":2.0},{"x":26.8,"v":0.9},{"x":26.9,"v":1.6},{"x":27.0,"v":0.7},{"x":27.1,"v":1.5},{"x":27.2,"v":2.0},{"x":27.28,"v":3.6},{"x":27.4,"v":1.8},{"x":27.5,"v":2.8},{"x":27.6,"v":1.0},
   {"x":27.7,"v":1.6},{"x":27.8,"v":0.9},{"x":27.9,"v":1.3},{"x":28.0,"v":0.5},{"x":28.1,"v":1.0},{"x":28.2,"v":0.5},{"x":28.3,"v":1.8},{"x":28.4,"v":1.0},{"x":28.5,"v":1.4},{"x":28.6,"v":0.7},
   {"x":28.7,"v":1.5},{"x":28.8,"v":0.4},{"x":28.85,"v":0.2},{"x":28.9,"v":2.2},{"x":29.0,"v":1.0},{"x":29.1,"v":1.8},{"x":29.2,"v":1.1},{"x":29.3,"v":1.6},{"x":29.4,"v":1.0},{"x":29.5,"v":1.5},
   {"x":29.6,"v":1.1},{"x":29.7,"v":1.6},{"x":29.8,"v":0.8},{"x":29.9,"v":0.4},{"x":30.0,"v":1.1},{"x":30.1,"v":0.9},{"x":30.2,"v":0.8},{"x":30.3,"v":0.7}
  ]
 },
 "spacing": 49,
 "bounds": "flush",
 "vconcat": [
  {
   "width": 627, "height": 226,
   "data": {"name": "theta"},
   "encoding": {
    "x": {"field": "x", "type": "quantitative", "scale": {"domain": [-1.202, 31.568], "nice": false, "zero": false},
          "axis": {"values": [0,5,10,15,20,25,30], "labelFontSize": 15, "labelPadding": 8, "labelAngle": 0,
                   "title": "A", "titleX": -68, "titleY": -209, "titleAlign": "left", "titleBaseline": "alphabetic", "titleAngle": 0, "titleFontSize": 19, "titleFontWeight": "bold"}},
    "y": {"field": "v", "type": "quantitative", "scale": {"domain": [0.00316, 0.0329], "nice": false, "zero": false},
          "axis": {"values": [0.005,0.01,0.015,0.02,0.025,0.03], "format": ".3f", "labelExpr": "indexof(['0.005','0.015','0.025'], datum.label) >= 0 ? datum.label : ''",
                   "labelAngle": 270, "labelAlign": "center", "labelBaseline": "alphabetic", "labelPadding": 9, "labelFontSize": 14,
                   "title": "θ (80 genomes)", "titleFontSize": 21, "titleAngle": 270, "titleAlign": "center", "titleBaseline": "alphabetic", "titleX": -44, "titleY": 132}}
   },
   "layer": [
    {"transform": [{"filter": "datum.x < 15"}], "mark": {"type": "line", "color": "#d4262d", "strokeWidth": 2.7, "strokeJoin": "round", "strokeCap": "round"}},
    {"transform": [{"filter": "datum.x > 15"}], "mark": {"type": "line", "color": "#d4262d", "strokeWidth": 2.7, "strokeJoin": "round", "strokeCap": "round"}},
    {"data": {"name": "thetaDot"}, "mark": {"type": "point", "filled": true, "color": "#d4262d", "size": 10, "opacity": 1}}
   ]
  },
  {
   "spacing": 60,
   "bounds": "flush",
   "vconcat": [
    {
     "width": 630, "height": 227,
     "data": {"name": "pi"},
     "encoding": {
      "x": {"field": "x", "type": "quantitative", "scale": {"domain": [-1.14, 31.57], "nice": false, "zero": false},
            "axis": {"values": [0,5,10,15,20,25,30], "labelFontSize": 15, "labelPadding": 8, "labelAngle": 0,
                     "title": "B", "titleX": -68, "titleY": -215, "titleAlign": "left", "titleBaseline": "alphabetic", "titleAngle": 0, "titleFontSize": 19, "titleFontWeight": "bold"}},
      "y": {"field": "v", "type": "quantitative", "scale": {"domain": [0.00107, 0.02455], "nice": false, "zero": false},
            "axis": {"values": [0.005,0.01,0.015,0.02], "format": ".3f", "labelExpr": "indexof(['0.005','0.015'], datum.label) >= 0 ? datum.label : ''",
                     "labelAngle": 270, "labelAlign": "center", "labelBaseline": "alphabetic", "labelPadding": 9, "labelFontSize": 14,
                     "title": "π (80 genomes)", "titleFontSize": 21, "titleAngle": 270, "titleAlign": "center", "titleBaseline": "alphabetic", "titleX": -44, "titleY": 119}}
     },
     "layer": [
      {"transform": [{"filter": "datum.x < 15"}], "mark": {"type": "line", "color": "#4254a5", "strokeWidth": 2.7, "strokeJoin": "round", "strokeCap": "round"}},
      {"transform": [{"filter": "datum.x > 15"}], "mark": {"type": "line", "color": "#4254a5", "strokeWidth": 2.7, "strokeJoin": "round", "strokeCap": "round"}},
      {"data": {"name": "piDot"}, "mark": {"type": "point", "filled": true, "color": "#4254a5", "size": 12, "opacity": 1}}
     ]
    },
    {
     "width": 638, "height": 230,
     "data": {"name": "pair"},
     "encoding": {
      "x": {"field": "x", "type": "quantitative", "scale": {"domain": [-1.178, 31.51], "nice": false, "zero": false},
            "axis": {"values": [0,5,10,15,20,25,30], "labelFontSize": 15, "labelPadding": 8, "labelAngle": 0,
                     "title": "C", "titleX": -68, "titleY": -213, "titleAlign": "left", "titleBaseline": "alphabetic", "titleAngle": 0, "titleFontSize": 19, "titleFontWeight": "bold"}},
      "y": {"field": "v", "type": "quantitative", "scale": {"domain": [-0.00074, 0.0334], "nice": false, "zero": false},
            "axis": {"values": [0,0.005,0.01,0.015,0.02,0.025,0.03], "format": ".3f", "labelExpr": "indexof(['0.000','0.010','0.020','0.030'], datum.label) >= 0 ? datum.label : ''",
                     "labelAngle": 270, "labelAlign": "center", "labelBaseline": "alphabetic", "labelPadding": 9, "labelFontSize": 14,
                     "title": "Parental pairwise", "titleFontSize": 21, "titleAngle": 270, "titleAlign": "center", "titleBaseline": "alphabetic", "titleX": -44, "titleY": 122}}
     },
     "layer": [
      {"transform": [{"filter": "datum.x < 15"}], "mark": {"type": "line", "color": "#7552a3", "strokeWidth": 2.7, "strokeJoin": "round", "strokeCap": "round"}},
      {"transform": [{"filter": "datum.x > 15"}], "mark": {"type": "line", "color": "#7552a3", "strokeWidth": 2.7, "strokeJoin": "round", "strokeCap": "round"}}
     ]
    },
    {
     "width": 638, "height": 230,
     "title": {"text": "Chromosome 1 position (Mb)", "orient": "bottom", "anchor": "middle", "frame": "group", "dx": -20, "offset": 6, "baseline": "top", "font": "Liberation Sans", "fontSize": 21, "fontWeight": "normal", "color": "black"},
     "data": {"name": "rho"},
     "encoding": {
      "x": {"field": "x", "type": "quantitative", "scale": {"domain": [-1.178, 31.51], "nice": false, "zero": false},
            "axis": {"values": [0,5,10,15,20,25,30], "labelFontSize": 15, "labelPadding": 8, "labelAngle": 0,
                     "title": "D", "titleX": -68, "titleY": -214, "titleAlign": "left", "titleBaseline": "alphabetic", "titleAngle": 0, "titleFontSize": 19, "titleFontWeight": "bold"}},
      "y": {"field": "v", "type": "quantitative", "scale": {"domain": [-0.48, 13.3], "nice": false, "zero": false},
            "axis": {"values": [0,2,4,6,8,10,12], "format": "d",
                     "labelAngle": 270, "labelAlign": "center", "labelBaseline": "alphabetic", "labelPadding": 9, "labelFontSize": 14,
                     "title": "ρ/kb", "titleFontSize": 21, "titleAngle": 270, "titleAlign": "center", "titleBaseline": "alphabetic", "titleX": -44, "titleY": 107}}
     },
     "layer": [
      {"transform": [{"filter": "datum.x < 15"}], "mark": {"type": "line", "color": "#e8a331", "strokeWidth": 2.7, "strokeJoin": "round", "strokeCap": "round"}},
      {"transform": [{"filter": "datum.x > 15"}], "mark": {"type": "line", "color": "#e8a331", "strokeWidth": 2.7, "strokeJoin": "round", "strokeCap": "round"}}
     ]
    }
   ]
  }
 ]
}
